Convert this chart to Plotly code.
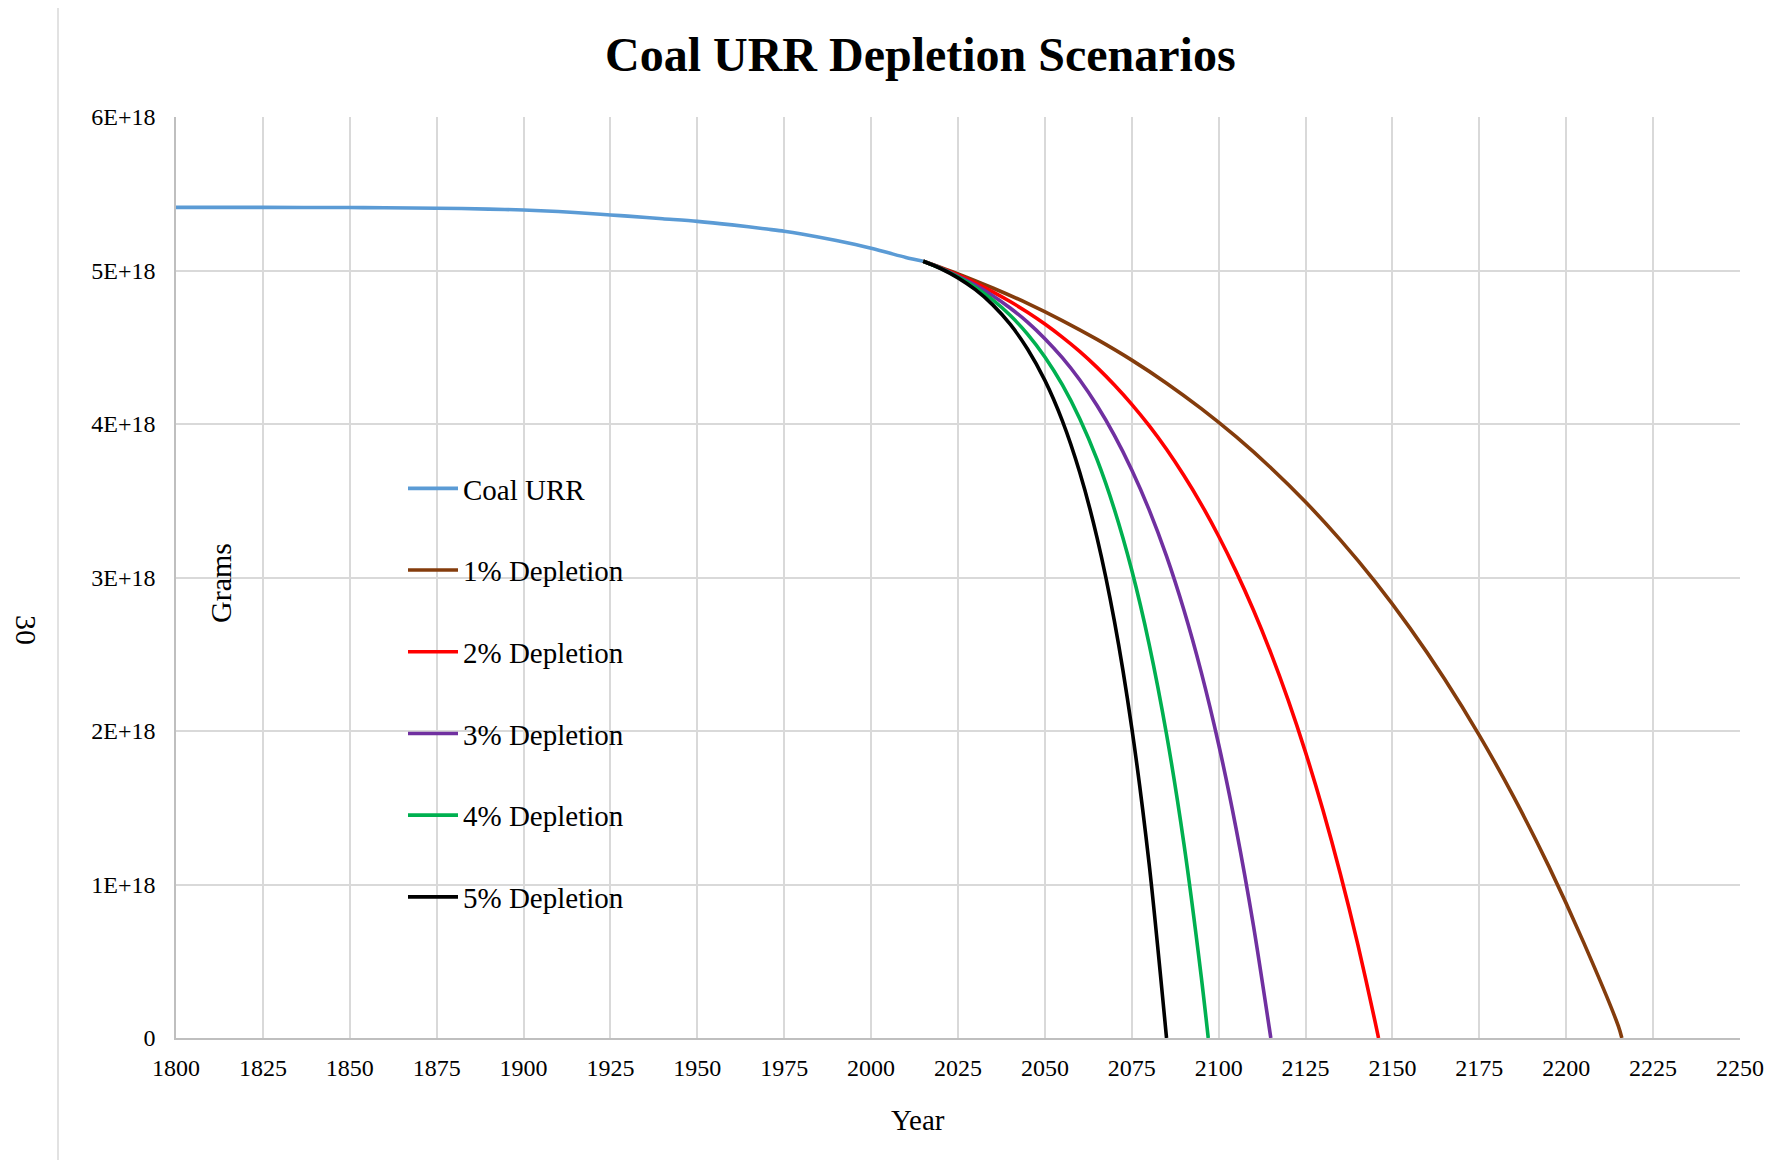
import plotly.graph_objects as go

# ---- data (values in units of 1E18 grams) ----
hist_years = [1800, 1825, 1850, 1860, 1875, 1890, 1900, 1910, 1920, 1925, 1930, 1940,
              1950, 1960, 1970, 1975, 1980, 1990, 2000, 2005, 2010, 2015]
hist_urr = [5.411, 5.411, 5.410, 5.409, 5.406, 5.400, 5.394, 5.384, 5.370, 5.362, 5.354, 5.337,
            5.320, 5.297, 5.270, 5.256, 5.238, 5.195, 5.145, 5.115, 5.085, 5.060]

dep1_years = [2015, 2025, 2035, 2045, 2055, 2065, 2075, 2085, 2095, 2105, 2115, 2125, 2135,
              2145, 2155, 2165, 2175, 2185, 2195, 2205, 2215, 2216]
dep1_vals = [5.060, 4.978, 4.886, 4.786, 4.674, 4.551, 4.416, 4.266, 4.100, 3.917, 3.715, 3.492,
             3.245, 2.973, 2.672, 2.339, 1.972, 1.566, 1.118, 0.623, 0.077, 0.0]

dep2_years = [2015, 2020, 2025, 2030, 2035, 2040, 2045, 2050, 2055, 2060, 2065, 2070, 2075, 2080,
              2085, 2090, 2095, 2100, 2105, 2110, 2115, 2120, 2125, 2130, 2135, 2140, 2145, 2146]
dep2_vals = [5.060, 5.017, 4.971, 4.919, 4.861, 4.798, 4.728, 4.651, 4.566, 4.473, 4.369, 4.254,
             4.128, 3.989, 3.835, 3.664, 3.477, 3.269, 3.040, 2.788, 2.509, 2.201, 1.861, 1.485,
             1.070, 0.613, 0.107, 0.0]

dep3_years = [2015, 2020, 2025, 2030, 2035, 2040, 2045, 2050, 2055, 2060, 2065, 2070, 2075, 2080,
              2085, 2090, 2095, 2100, 2105, 2110, 2115]
dep3_vals = [5.060, 5.016, 4.964, 4.905, 4.836, 4.756, 4.664, 4.556, 4.432, 4.288, 4.120, 3.926,
             3.701, 3.441, 3.139, 2.788, 2.382, 1.912, 1.366, 0.733, 0.0]

dep4_years = [2015, 2020, 2025, 2030, 2035, 2040, 2045, 2050, 2055, 2060, 2065, 2070, 2075, 2080,
              2085, 2090, 2095, 2097]
dep4_vals = [5.060, 5.014, 4.958, 4.891, 4.808, 4.708, 4.586, 4.437, 4.256, 4.036, 3.769, 3.443,
             3.047, 2.565, 1.979, 1.266, 0.398, 0.0]

dep5_years = [2015, 2020, 2025, 2030, 2035, 2040, 2045, 2050, 2055, 2060, 2065, 2070, 2075, 2080,
              2085]
dep5_vals = [5.060, 5.013, 4.952, 4.875, 4.776, 4.650, 4.489, 4.284, 4.022, 3.687, 3.260, 2.716,
             2.020, 1.133, 0.0]

series_names = ["Coal URR", "1% Depletion", "2% Depletion", "3% Depletion", "4% Depletion", "5% Depletion"]
series_colors = ["#5B9BD5", "#843C0C", "#FF0000", "#7030A0", "#00B050", "#000000"]

x_ticks = list(range(1800, 2251, 25))
y_tickvals = [0, 1e18, 2e18, 3e18, 4e18, 5e18, 6e18]
y_ticktext = ["0", "1E+18", "2E+18", "3E+18", "4E+18", "5E+18", "6E+18"]

SERIF = "Liberation Serif, Times New Roman, serif"
E18 = 1e18

all_series = [
    (hist_years, hist_urr),
    (dep1_years, dep1_vals),
    (dep2_years, dep2_vals),
    (dep3_years, dep3_vals),
    (dep4_years, dep4_vals),
    (dep5_years, dep5_vals),
]

fig = go.Figure()
for i, ((xs, ys), name, color) in enumerate(zip(all_series, series_names, series_colors)):
    fig.add_trace(go.Scatter(
        x=xs, y=[v * E18 for v in ys], name=name, mode="lines",
        line=dict(color=color, width=3.6, shape="spline", smoothing=0.8),
        legendgroup=f"g{i}", hoverinfo="x+y+name",
    ))

OFF = 8  # page body margin
W, H = 1781 - OFF, 1160 - OFF
# plot area in page pixels: left 176, right 1740, top 117, bottom 1038
ML = 176 - OFF
MT = 117 - OFF
MR = W - (1740 - OFF)
MB = H - (1038 - OFF)
PW, PH = W - ML - MR, H - MT - MB


def px_x(px):
    return (px - OFF - ML) / PW


def px_y(py):
    return (H - MB - (py - OFF)) / PH


fig.update_layout(
    width=W, height=H, autosize=False,
    margin=dict(l=ML, r=MR, t=MT, b=MB),
    paper_bgcolor="white", plot_bgcolor="white",
    font=dict(family=SERIF, color="black", size=24),
    showlegend=True,
    legend=dict(
        x=px_x(403), y=px_y(463), xanchor="left", yanchor="top",
        font=dict(family=SERIF, size=29, color="black"),
        bgcolor="rgba(0,0,0,0)", tracegroupgap=41, itemwidth=50,
        traceorder="grouped",
    ),
    xaxis=dict(
        range=[1800, 2250], tickmode="array", tickvals=x_ticks,
        ticktext=[str(t) for t in x_ticks],
        showgrid=True, gridcolor="#D9D9D9", gridwidth=1.5,
        showline=True, linecolor="#BFBFBF", linewidth=1.5,
        zeroline=False, ticks="", tickfont=dict(family=SERIF, size=24, color="black"),
        ticklabelstandoff=7,
    ),
    yaxis=dict(
        range=[0, 6e18], tickmode="array", tickvals=y_tickvals, ticktext=y_ticktext,
        showgrid=True, gridcolor="#D9D9D9", gridwidth=1.5,
        showline=True, linecolor="#BFBFBF", linewidth=1.5,
        zeroline=False, ticks="", tickfont=dict(family=SERIF, size=24, color="black"),
        ticklabelstandoff=14,
    ),
    annotations=[
        dict(text="<b>Coal URR Depletion Scenarios</b>", x=px_x(920), y=px_y(55),
             xref="paper", yref="paper", showarrow=False, xanchor="center", yanchor="middle",
             font=dict(family=SERIF, size=48, color="black")),
        dict(text="Grams", x=px_x(220), y=px_y(583), xref="paper", yref="paper",
             showarrow=False, textangle=-90, xanchor="center", yanchor="middle",
             font=dict(family=SERIF, size=30, color="black")),
        dict(text="Year", x=px_x(918), y=px_y(1120), xref="paper", yref="paper",
             showarrow=False, xanchor="center", yanchor="middle",
             font=dict(family=SERIF, size=29, color="black")),
        dict(text="30", x=px_x(27), y=px_y(630), xref="paper", yref="paper",
             showarrow=False, textangle=90, xanchor="center", yanchor="middle",
             font=dict(family=SERIF, size=30, color="black")),
    ],
    shapes=[
        dict(type="line", xref="paper", yref="paper", x0=px_x(58), x1=px_x(1800),
             y0=px_y(6), y1=px_y(6), line=dict(color="#D9D9D9", width=1.5)),
        dict(type="line", xref="paper", yref="paper", x0=px_x(58), x1=px_x(58),
             y0=px_y(6), y1=px_y(1180), line=dict(color="#D9D9D9", width=1.5)),
    ],
)

fig.write_html("out.html")
